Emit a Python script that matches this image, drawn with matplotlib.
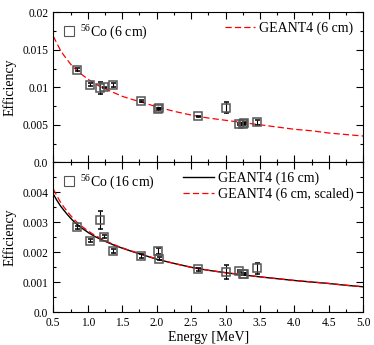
import matplotlib
matplotlib.use("Agg")
import matplotlib.pyplot as plt
from matplotlib.ticker import MultipleLocator
from matplotlib.lines import Line2D
import numpy as np

plt.rcParams["font.family"] = "Liberation Serif"
plt.rcParams["mathtext.fontset"] = "custom"
plt.rcParams["mathtext.rm"] = "Liberation Serif"

# Co-56 gamma lines [MeV]
energy = [0.847, 1.038, 1.175, 1.238, 1.360, 1.771, 2.015, 2.035,
          2.598, 3.010, 3.202, 3.253, 3.273, 3.451]

# measured efficiency, 6 cm
eff_6 = [0.01231, 0.01031, 0.00996, 0.01000, 0.01031, 0.00822, 0.00711, 0.00720,
         0.00613, 0.00729, 0.00511, 0.00511, 0.00524, 0.00533]
err_6 = [0.00020, 0.00020, 0.00080, 0.00010, 0.00030, 0.00015, 0.00015, 0.00010,
         0.00010, 0.00075, 0.00010, 0.00010, 0.00015, 0.00035]

# measured efficiency, 16 cm
eff_16 = [0.00283, 0.00239, 0.00308, 0.00252, 0.00205, 0.00188, 0.00205, 0.00179,
          0.00143, 0.00133, 0.00138, 0.00127, 0.00127, 0.00147]
err_16 = [0.00005, 0.00006, 0.00031, 0.00005, 0.00007, 0.00006, 0.00010, 0.00005,
          0.00004, 0.00023, 0.00004, 0.00004, 0.00004, 0.00018]

# GEANT4 curves
sim_e = [0.50, 0.55, 0.60, 0.65, 0.70, 0.75, 0.80, 0.85, 0.90, 1.00,
         1.10, 1.20, 1.30, 1.40, 1.50, 1.60, 1.75, 2.00, 2.25, 2.50,
         2.75, 3.00, 3.25, 3.50, 3.75, 4.00, 4.25, 4.50, 4.75, 5.00]
sim_6 = [0.0168, 0.0159, 0.0150, 0.0143, 0.0137, 0.0131, 0.0126, 0.0122, 0.0118, 0.0111,
         0.0105, 0.0100, 0.0096, 0.0092, 0.0088, 0.0085, 0.0081, 0.0074, 0.0068, 0.0063,
         0.0059, 0.0056, 0.0053, 0.0050, 0.0047, 0.0044, 0.0042, 0.0039, 0.0037, 0.0035]
sim_6_scaled = [0.00411, 0.00389, 0.00369, 0.00352, 0.00337, 0.00323, 0.00310, 0.00299, 0.00289, 0.00272,
                0.00257, 0.00245, 0.00234, 0.00224, 0.00215, 0.00207, 0.00196, 0.00178, 0.00163, 0.00150,
                0.00140, 0.00132, 0.00125, 0.00118, 0.00112, 0.00106, 0.00101, 0.00096, 0.00090, 0.00085]
sim_16 = [0.00394, 0.00374, 0.00356, 0.00341, 0.00327, 0.00314, 0.00302, 0.00292, 0.00283, 0.00267,
          0.00253, 0.00242, 0.00232, 0.00222, 0.00214, 0.00206, 0.00195, 0.00177, 0.00163, 0.00150,
          0.00140, 0.00132, 0.00125, 0.00118, 0.00112, 0.00106, 0.00101, 0.00096, 0.00090, 0.00085]

top_yticks = [0.0, 0.005, 0.01, 0.015, 0.02]
top_ylabels = ["0.0", "0.005", "0.01", "0.015", "0.02"]
bot_yticks = [0.0, 0.001, 0.002, 0.003, 0.004]
bot_ylabels = ["0.0", "0.001", "0.002", "0.003", "0.004"]
xticks = [0.5, 1.0, 1.5, 2.0, 2.5, 3.0, 3.5, 4.0, 4.5, 5.0]
xlabels = ["0.5", "1.0", "1.5", "2.0", "2.5", "3.0", "3.5", "4.0", "4.5", "5.0"]

fig = plt.figure(figsize=(3.74, 3.45), dpi=100)
ax1 = fig.add_axes([0.1425, 0.5296, 0.829, 0.4348])
ax2 = fig.add_axes([0.1425, 0.0948, 0.829, 0.4348])

mk = dict(fmt="s", ms=5.5, mfc="none", mec="#555555", mew=1.1,
          ecolor="black", elinewidth=0.8, capsize=1.8, capthick=0.8, zorder=3)
red_dash = dict(color="red", lw=0.9, ls=(0, (5, 2.5)))


def style(ax, yticks, ylabels, ymax, minor):
    ax.set_xlim(0.5, 5.0)
    ax.set_ylim(0, ymax)
    ax.set_xticks(xticks)
    ax.xaxis.set_minor_locator(MultipleLocator(0.25))
    ax.set_yticks(yticks)
    ax.set_yticklabels(ylabels)
    ax.yaxis.set_minor_locator(MultipleLocator(minor))
    ax.tick_params(which="both", direction="in", top=True, right=True, labelsize=8.3)
    ax.tick_params(which="major", length=5, width=0.8)
    ax.tick_params(which="minor", length=2.5, width=0.8)
    ax.set_ylabel("Efficiency", fontsize=10)
    ax.yaxis.set_label_coords(-0.118, 0.5)


# top panel: 6 cm
ax1.errorbar(energy, eff_6, yerr=err_6, **mk)
ax1.plot(sim_e, sim_6, **red_dash)
style(ax1, top_yticks, top_ylabels, 0.02, 0.0025)
ax1.tick_params(labelbottom=False)

h_pts = Line2D([], [], ls="none", marker="s", ms=7, mfc="none", mec="#555555", mew=0.8)
leg = ax1.legend([h_pts], ["$^{56}$Co (6 cm)"], loc="upper left", frameon=False,
                 fontsize=10, handlelength=0.8, handletextpad=0.4, borderaxespad=0.3)
ax1.add_artist(leg)
ax1.legend([Line2D([], [], **red_dash)], ["GEANT4 (6 cm)"], loc="upper right",
           frameon=False, fontsize=10, handlelength=2.2, handletextpad=0.3, borderaxespad=0.3)

# bottom panel: 16 cm
ax2.errorbar(energy, eff_16, yerr=err_16, **mk)
ax2.plot(sim_e, sim_16, color="black", lw=1.0)
ax2.plot(sim_e, sim_6_scaled, **red_dash)
style(ax2, bot_yticks, bot_ylabels, 0.005, 0.0005)
ax2.set_xticklabels(xlabels)
ax2.set_xlabel("Energy [MeV]", fontsize=10, labelpad=1)

leg = ax2.legend([h_pts], ["$^{56}$Co (16 cm)"], loc="upper left", frameon=False,
                 fontsize=10, handlelength=0.8, handletextpad=0.4, borderaxespad=0.3)
ax2.add_artist(leg)
ax2.legend([Line2D([], [], color="black", lw=1.0), Line2D([], [], **red_dash)],
           ["GEANT4 (16 cm)", "GEANT4 (6 cm, scaled)"], loc="upper right",
           frameon=False, fontsize=10, handlelength=2.2, handletextpad=0.3,
           borderaxespad=0.3, labelspacing=0.15)

fig.savefig("out.png", dpi=100)
